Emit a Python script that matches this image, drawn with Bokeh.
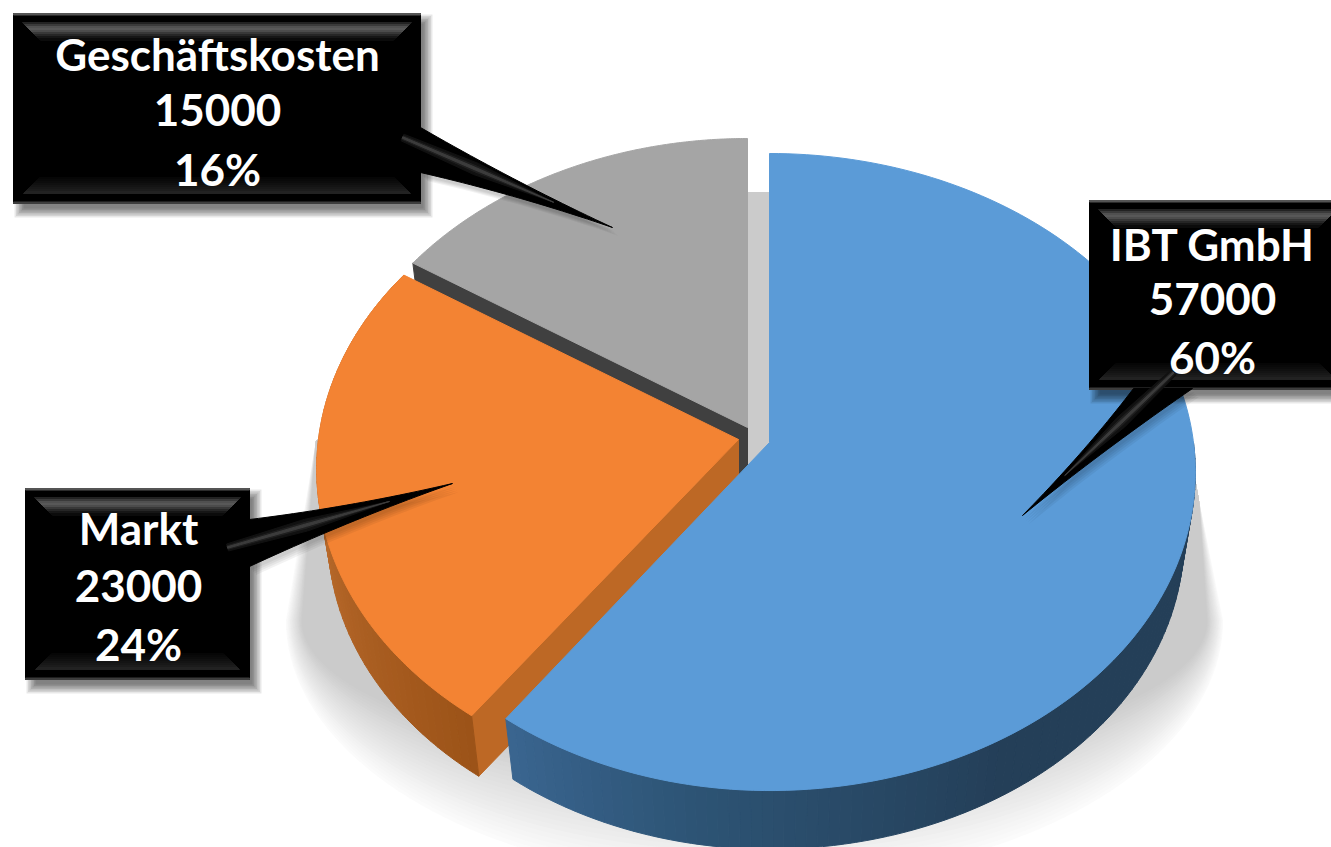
import numpy as np
from bokeh.plotting import figure
from bokeh.models import Range1d, ColumnDataSource
from bokeh.core.properties import value
from bokeh.embed import file_html
from bokeh.resources import INLINE

# ---- data ----
categories = ["IBT GmbH", "Markt", "Geschäftskosten"]
values = [57000, 23000, 15000]

# ---- layout / style ----
top_colors = ["#5b9bd7", "#f38333", "#a5a5a5"]
apexes = [(769, 442, 415.0), (738, 439, 420.0), (747, 427, 420.0)]   # x, y, width to the left
A, B, K = 315.8, 424.0, 0.0927      # perspective projection of the disc
SCALE, DEPTH = 0.973, 68            # lower face of the disc
boxes = [(1089, 200, 1345, 389), (25, 488, 249, 679), (13, 13, 420, 203)]
text_rows = [(1212, (243, 298, 356)), (138, (527, 585, 643)), (217, (53, 109, 168))]
pointers = [((1133, 388), (1192, 388), (1022, 515), (1173, 372)),
            ((249, 519), (249, 566), (452, 483), (227, 547)),
            ((420, 127), (420, 172), (612, 227), (402, 137))]

total = sum(values)
fracs = [v / total for v in values]
edges = np.concatenate([[0], np.cumsum(fracs)]) * 2 * np.pi

polys = []
def poly(xs, ys, color, alpha=1.0, seam=True):
    polys.append((list(map(float, xs)), list(map(float, ys)), color, alpha, 1.0 if seam else 0.0))

def top_pt(apex, th):
    th = np.asarray(th, dtype=float)
    u, v = np.sin(th), np.cos(th)
    w = 1 + K * v
    return apex[0] + np.where(u < 0, apex[2], B) * u / w, apex[1] - A * v / w

def low_pt(apex, th):
    x, y = top_pt(apex, th)
    return apex[0] + SCALE * (x - apex[0]), apex[1] + DEPTH + SCALE * (y - apex[1])

def hexmix(stops, t):
    ts = [s[0] for s in stops]
    rgb = [[int(s[1][i:i + 2], 16) for i in (1, 3, 5)] for s in stops]
    c = [int(round(np.interp(t, ts, [r[j] for r in rgb]))) for j in range(3)]
    return "#%02x%02x%02x" % tuple(c)

def outer_wall(apex, t0, t1, stops, n=60):
    grid = np.linspace(t0, t1, n + 1)
    for a, b in zip(grid[:-1], grid[1:]):
        th = np.linspace(a, b, 3)
        x1, y1 = top_pt(apex, th)
        x2, y2 = low_pt(apex, th[::-1])
        poly(np.r_[x1, x2], np.r_[y1, y2], hexmix(stops, np.degrees((a + b) / 2)))

def radial_wall(apex, th, color):
    x1, y1 = top_pt(apex, th)
    x2, y2 = low_pt(apex, th)
    poly([apex[0], x1, x2, apex[0]], [apex[1], y1, y2, apex[1] + DEPTH], color)

def top_face(apex, t0, t1, color):
    th = np.linspace(t0, t1, 160)
    x, y = top_pt(apex, th)
    poly(np.r_[apex[0], x], np.r_[apex[1], y], color)

# ---- ground shadow ----
cx, cy = 754, 620
N = 24
for i in range(N):
    t = i / (N - 1)
    b = 262 - 120 * t
    half = 468 - 16 * t
    ang = np.linspace(0, np.pi, 90)
    xs = cx + half * np.cos(ang)
    ys = cy + b * np.sin(ang)
    xs = np.r_[xs, 316, 600, 900, 1180, 1198]
    ys = np.r_[ys, 440, 192, 192, 400, 500]
    poly(xs, ys, hexmix([(0, "#fbfbfb"), (1, "#cbcbcb")], t))

# ---- slices, back to front ----
t_blue, t_orange, t_gray = edges[1], edges[2], edges[3]
radial_wall(apexes[2], t_orange, "#404040")
top_face(apexes[2], t_orange, t_gray, top_colors[2])

radial_wall(apexes[1], t_blue, "#bd6825")
outer_wall(apexes[1], t_blue, t_orange,
           [(216, "#9c5318"), (262, "#b96a2b"), (304, "#b96a2b")])
top_face(apexes[1], t_blue, t_orange, top_colors[1])

outer_wall(apexes[0], np.pi / 2, t_blue,
           [(90, "#243f58"), (150, "#243f58"), (190, "#2d5475"), (216, "#3a6590")], n=90)
top_face(apexes[0], 0, t_blue, top_colors[0])

# ---- callouts ----
def wedge(base1, base2, tip, bulge=0.12, dx=0, dy=0):
    mid = ((base1[0] + base2[0]) / 2, (base1[1] + base2[1]) / 2)
    t = np.linspace(0, 1, 24)
    def curve(p):
        c = (p[0] + (mid[0] - p[0]) * bulge * 2 + (tip[0] - p[0]) * 0.5,
             p[1] + (mid[1] - p[1]) * bulge * 2 + (tip[1] - p[1]) * 0.5)
        return ((1 - t) ** 2 * p[0] + 2 * t * (1 - t) * c[0] + t ** 2 * tip[0],
                (1 - t) ** 2 * p[1] + 2 * t * (1 - t) * c[1] + t ** 2 * tip[1])
    x1, y1 = curve(base1)
    x2, y2 = curve(base2)
    return np.r_[x1, x2[::-1]] + dx, np.r_[y1, y2[::-1]] + dy

def rect(l, t, r, b):
    return [l, r, r, l], [t, t, b, b]

for (l, t, r, b), (b1, b2, tip, inner) in zip(boxes, pointers):
    # box shadow
    for g in range(7):
        e = 6 - 1.5 * g
        xs, ys = rect(l + 7 - e, t + 7 - e, r + 6 + e, b + 8 + e)
        poly(xs, ys, "#000000", 0.09, seam=False)
    # pointer shadow
    for g in range(4):
        xs, ys = wedge(b1, b2, tip, dx=2 + g * 1.5, dy=4 + g * 1.5)
        poly(xs, ys, "#000000", 0.05, seam=False)

for (l, t, r, b), (b1, b2, tip, inner) in zip(boxes, pointers):
    xs, ys = rect(l, t, r, b)
    poly(xs, ys, "#000000")
    # upper bevel
    shades = [0x22, 0x3a, 0x50, 0x58, 0x4c, 0x38, 0x26, 0x16, 0x0b]
    for n, s in enumerate(shades):
        y0, y1 = t + 9 + 2 * n, t + 11 + 2 * n
        c = "#%02x%02x%02x" % (s, s, s)
        poly([l + 9 + 2 * n, r - 9 - 2 * n, r - 11 - 2 * n, l + 11 + 2 * n], [y0, y0, y1, y1], c)
    # lower bevel
    shades = [0x06, 0x09, 0x0c, 0x10, 0x14, 0x18, 0x1c, 0x22]
    for n, s in enumerate(shades):
        y0, y1 = b - 26 + 2 * n, b - 24 + 2 * n
        ins = 26 - 2 * n
        c = "#%02x%02x%02x" % (s, s, s)
        poly([l + ins, r - ins, r - ins + 2, l + ins - 2], [y0, y0, y1, y1], c)
    # rim
    poly(*rect(l, t, r, t + 1.5), "#555555")
    poly(*rect(l, b - 1.5, r, b), "#3c3c3c")
    # pointer
    xs, ys = wedge(b1, b2, tip)
    poly(xs, ys, "#000000")
    # ridge of the pointer
    along = np.array(tip, dtype=float) - np.array(inner, dtype=float)
    normal = np.array([-along[1], along[0]]) / np.hypot(*along)
    a = np.array(inner, dtype=float)
    for w, sh in ((12.0, "#111111"), (6.0, "#202020"), (2.5, "#3c3c3c")):
        p0 = a + normal * w * 0.3
        p1 = a - normal * w * 0.3
        p2 = a + along * 0.35 + normal * w * 0.5
        p3 = a + along * 0.35 - normal * w * 0.5
        p4 = a + along * 0.72
        poly([p0[0], p2[0], p4[0], p3[0], p1[0]], [p0[1], p2[1], p4[1], p3[1], p1[1]], sh)

# ---- figure ----
p = figure(width=1331, height=847, output_backend="svg", toolbar_location=None,
           x_range=Range1d(0, 1331), y_range=Range1d(847, 0), min_border=0)
p.axis.visible = False
p.grid.visible = False
p.outline_line_color = None
p.background_fill_color = "#ffffff"

src = ColumnDataSource(dict(xs=[q[0] for q in polys], ys=[q[1] for q in polys],
                            c=[q[2] for q in polys], a=[q[3] for q in polys], la=[q[4] for q in polys]))
p.patches("xs", "ys", source=src, fill_color="c", fill_alpha="a",
          line_color="c", line_alpha="la", line_width=1.0)

tx, ty, tt = [], [], []
for cat, val, frac, (x, rows) in zip(categories, values, fracs, text_rows):
    for y, s in zip(rows, (cat, str(val), f"{round(frac * 100)}%")):
        tx.append(x); ty.append(y); tt.append(s)
p.text(tx, ty, text=tt, text_color="#ffffff", text_font=value("Lato"), text_font_style="bold",
       text_font_size="44px", text_align="center", text_baseline="middle")

open("out.html", "w").write(file_html(p, INLINE))
